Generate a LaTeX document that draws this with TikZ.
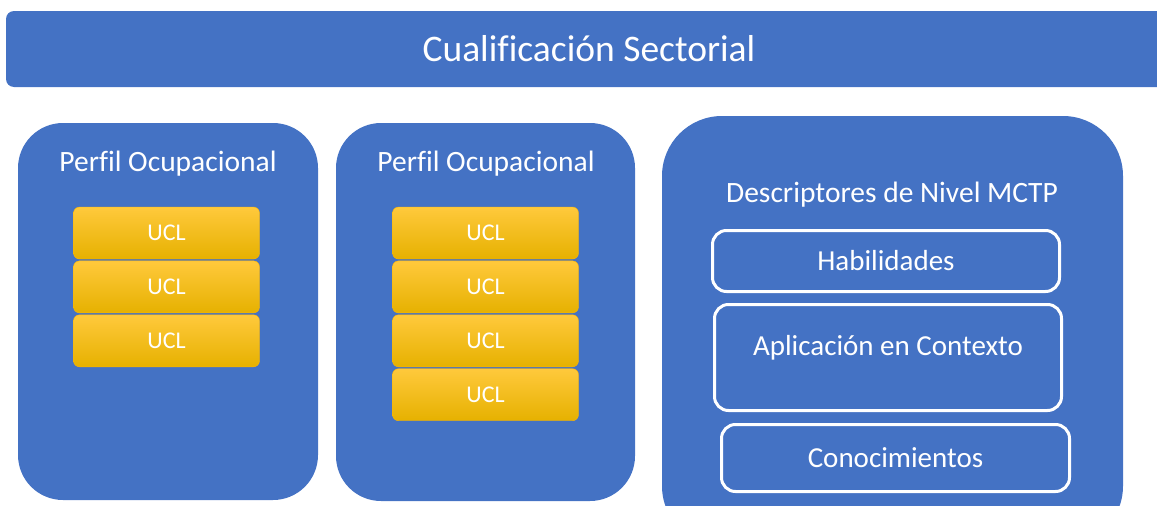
\documentclass[tikz,border=0pt]{standalone}
\usepackage{fontspec}
\setmainfont{Carlito}[Ligatures=NoCommon]
\usepackage{tikz}
\usetikzlibrary{shapes,positioning}
\definecolor{mcblue}{RGB}{68,114,196}
\definecolor{mcgoldtop}{RGB}{255,201,60}
\definecolor{mcgold}{RGB}{255,192,0}
\definecolor{mcgoldbot}{RGB}{230,177,0}
\tikzstyle{banner} = [fill=mcblue, rounded corners=8pt, minimum width=1166pt, minimum height=76pt, text=white, font=\fontsize{37.5}{44}\selectfont]
\tikzstyle{panel} = [fill=mcblue, rounded corners=45pt]
\tikzstyle{title} = [text=white, font=\fontsize{29.5}{35}\selectfont]
\tikzstyle{ucl} = [rounded corners=6pt, top color=mcgoldtop, middle color=mcgold, bottom color=mcgoldbot, draw=mcgold!85!orange, minimum width=186pt, minimum height=52pt, inner sep=0pt, text=white, font=\fontsize{24}{28}\selectfont]
\tikzstyle{desc} = [draw=white, line width=3pt, rounded corners=14pt, inner sep=0pt, text=white, font=\fontsize{29}{34}\selectfont]

\begin{document}
\begin{tikzpicture}[x=1pt, y=-1pt]
\useasboundingbox (0,0) rectangle (1157,506);
\clip (0,0) rectangle (1157,506);

% Banner
\node[banner] (cualif) at (589,49) {Cualificación Sectorial};

% Perfil ocupacional 1
\node[panel, minimum width=300pt, minimum height=377pt] (perfilA) at (168,311.5) {};
\node[title] (tituloA) at (168,164) {Perfil Ocupacional};
\node[ucl] (uclA1) at (166.5,233) {UCL};
\node[ucl, below=1.5pt of uclA1] (uclA2) {UCL};
\node[ucl, below=1.5pt of uclA2] (uclA3) {UCL};

% Perfil ocupacional 2
\node[panel, minimum width=299pt, minimum height=378pt] (perfilB) at (485.5,312) {};
\node[title] (tituloB) at (486,164) {Perfil Ocupacional};
\node[ucl] (uclB1) at (485.5,233) {UCL};
\node[ucl, below=1.5pt of uclB1] (uclB2) {UCL};
\node[ucl, below=1.5pt of uclB2] (uclB3) {UCL};
\node[ucl, below=1.5pt of uclB3] (uclB4) {UCL};

% Descriptores de nivel
\node[panel, rounded corners=60pt, minimum width=461pt, minimum height=430pt] (nivel) at (892.5,331) {};
\node[title] (tituloC) at (892,195) {Descriptores de Nivel MCTP};
\node[desc, minimum width=347pt, minimum height=61pt] (habil) at (886,261) {Habilidades};
\node[desc, minimum width=347pt, minimum height=106pt] (aplic) at (888,357.5) {};
\node[text=white, font=\fontsize{29}{34}\selectfont] (aplictxt) at ([yshift=10pt]aplic.center) {Aplicación en Contexto};
\node[desc, minimum width=348pt, minimum height=67pt] (conoc) at (895.5,458) {Conocimientos};
\end{tikzpicture}
\end{document}
